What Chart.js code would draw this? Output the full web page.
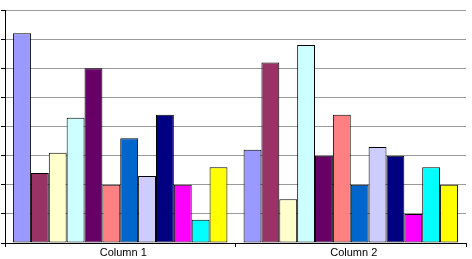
<!DOCTYPE html>
<html>
<head>
<meta charset="utf-8">
<script src="https://cdn.jsdelivr.net/npm/chart.js@4"></script>
<style>
  body { margin: 0; background: #fff; }
  canvas { display: block; }
</style>
</head>
<body>
<canvas id="barChart" width="472" height="259"></canvas>
<script>
// Categories on the x axis
const categories = ['Column 1', 'Column 2'];

// One entry per series (rows)
const seriesNames = ['Row 1', 'Row 2', 'Row 3', 'Row 4', 'Row 5', 'Row 6',
                     'Row 7', 'Row 8', 'Row 9', 'Row 10', 'Row 11', 'Row 12'];
const column1Values = [7.2, 2.4, 3.1, 4.3, 6.0, 2.0, 3.6, 2.3, 4.4, 2.0, 0.8, 2.6];
const column2Values = [3.2, 6.2, 1.5, 6.8, 3.0, 4.4, 2.0, 3.3, 3.0, 1.0, 2.6, 2.0];

// Old Excel default series palette
const seriesColors = ['#9999FF', '#993366', '#FFFFCC', '#CCFFFF', '#660066', '#FF8080',
                      '#0066CC', '#CCCCFF', '#000080', '#FF00FF', '#00FFFF', '#FFFF00'];

// y axis: 0..8, one gridline per unit, no labels
const yMin = 0;
const yMax = 8;
const yStep = 1;

document.addEventListener('DOMContentLoaded', () => {
    const datasets = seriesNames.map((name, i) => ({
        label: name,
        data: [column1Values[i], column2Values[i]],
        backgroundColor: seriesColors[i],
        borderColor: '#000',
        borderWidth: 1,
        borderSkipped: false,
        barPercentage: 1,
        categoryPercentage: 0.93
    }));

    const barConfig = {
        type: 'bar',
        data: { labels: categories, datasets: datasets },
        options: {
            responsive: false,
            animation: false,
            layout: {
                padding: { left: 1, top: 10, right: 6, bottom: 1 }
            },
            scales: {
                x: {
                    grid: {
                        drawOnChartArea: false,
                        drawTicks: true,
                        tickLength: 4,
                        offset: true,
                        color: (ctx) => ctx.index === categories.length ? 'rgba(0,0,0,0)' : '#000',
                        tickColor: (ctx) => ctx.index === categories.length ? 'rgba(0,0,0,0)' : '#000'
                    },
                    border: { color: '#000', width: 1 },
                    ticks: {
                        color: '#000',
                        padding: 0,
                        labelOffset: 3,
                        maxRotation: 0,
                        font: { family: 'Liberation Sans, Arial, sans-serif', size: 11, lineHeight: 1 }
                    }
                },
                y: {
                    min: yMin,
                    max: yMax,
                    grid: {
                        color: '#999',
                        tickColor: '#000',
                        tickLength: 4,
                        drawTicks: true
                    },
                    border: { color: '#000', width: 1 },
                    ticks: { display: false, stepSize: yStep }
                }
            },
            plugins: {
                legend: { display: false },
                tooltip: { enabled: false }
            }
        }
    };

    const barChart = new Chart(document.getElementById('barChart'), barConfig);
});
</script>
</body>
</html>
